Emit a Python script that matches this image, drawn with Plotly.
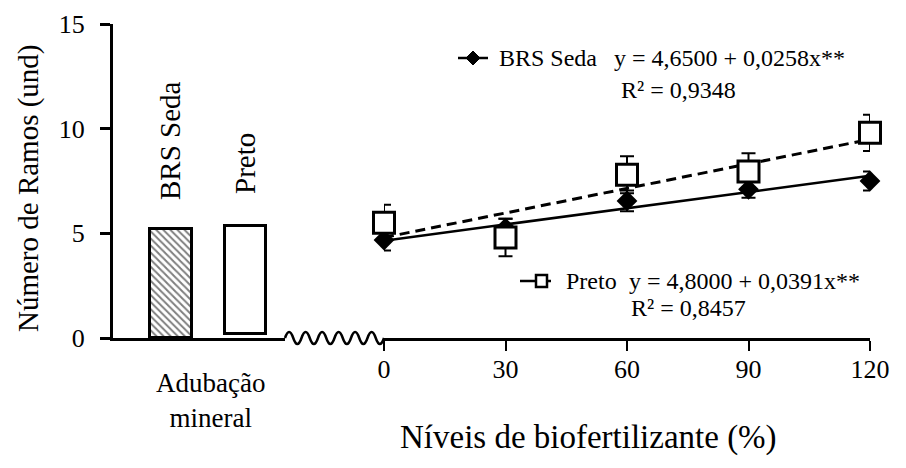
import plotly.graph_objects as go

# ---------------- data ----------------
mineral_cultivars = ["BRS Seda", "Preto"]
mineral_top = [5.2, 5.35]
mineral_base = [0.0, 0.2]

levels = [0, 30, 60, 90, 120]
brs_mean = [4.68, 5.25, 6.55, 7.1, 7.5]
brs_err = [0.5, 0.45, 0.5, 0.4, 0.45]
preto_mean = [5.5, 4.8, 7.8, 7.95, 9.8]
preto_err = [0.87, 0.9, 0.88, 0.87, 0.87]

brs_coef = (4.65, 0.0258)
preto_coef = (4.80, 0.0391)
fit_x = [0, 120]

brs_eq = "y = 4,6500 + 0,0258x**"
brs_r2 = "R² = 0,9348"
preto_eq = "y = 4,8000 + 0,0391x**"
preto_r2 = "R² = 0,8457"

y_ticks = [0, 5, 10, 15]
x_title = "Níveis de biofertilizante (%)"
y_title = "Número de Ramos (und)"
group_label = "Adubação<br>mineral"

# ---------------- geometry (screen pixels of the 906x468 page) ----------------
OFF = 8                      # default body margin of the html page
PL, PR, PT, PB = 113, 870, 24, 338   # plot area on screen
FIG_W, FIG_H = 890, 452
M_L = PL - OFF
M_T = PT - OFF
M_R = FIG_W - (PR - OFF)
M_B = FIG_H - (PB - OFF)
x_bar_end = 285
x_num_start = 384
FONT = "Liberation Serif, Times New Roman, serif"


def px(xs):
    return (xs - PL) / (PR - PL)


def py(ys):
    return (PB - ys) / (PB - PT)


fig = go.Figure()

# mineral fertilization bars
fig.add_trace(go.Bar(
    x=mineral_cultivars,
    y=[t - b for t, b in zip(mineral_top, mineral_base)],
    base=mineral_base,
    width=0.56,
    xaxis="x", yaxis="y",
    marker=dict(color="white",
                pattern=dict(shape=["\\", ""], fgcolor="black", bgcolor="white",
                             size=5, solidity=0.4),
                line=dict(color="black", width=3)),
    showlegend=False,
))

# regression lines
fig.add_trace(go.Scatter(
    x=fit_x, y=[brs_coef[0] + brs_coef[1] * v for v in fit_x],
    mode="lines", line=dict(color="black", width=2.5),
    xaxis="x2", yaxis="y", showlegend=False))
fig.add_trace(go.Scatter(
    x=fit_x, y=[preto_coef[0] + preto_coef[1] * v for v in fit_x],
    mode="lines", line=dict(color="black", width=3, dash="10px,6px"),
    xaxis="x2", yaxis="y", showlegend=False))

# means with error bars
fig.add_trace(go.Scatter(
    x=levels, y=brs_mean, mode="markers",
    marker=dict(symbol="diamond", size=16, color="black", line=dict(width=0)),
    error_y=dict(type="data", array=brs_err, color="black", thickness=2, width=7),
    xaxis="x2", yaxis="y", cliponaxis=False, showlegend=False))
fig.add_trace(go.Scatter(
    x=levels, y=preto_mean, mode="markers",
    marker=dict(symbol="square", size=21, color="white",
                line=dict(color="black", width=3)),
    error_y=dict(type="data", array=preto_err, color="black", thickness=2, width=7),
    xaxis="x2", yaxis="y", cliponaxis=False, showlegend=False))

shapes = []

# broken axis zigzag
n_half = 12
seg = (x_num_start - x_bar_end) / n_half
amp = 12
path = f"M {px(x_bar_end)} {py(338)}"
for i in range(n_half):
    x0 = x_bar_end + i * seg
    cy = 338 - amp if i % 2 == 0 else 338 + amp
    path += f" Q {px(x0 + seg / 2)} {py(cy)} {px(x0 + seg)} {py(338)}"
shapes.append(dict(type="path", path=path, xref="paper", yref="paper",
                   line=dict(color="black", width=2.5)))

# legend keys
shapes.append(dict(type="line", xref="paper", yref="paper",
                   x0=px(458), x1=px(488), y0=py(58), y1=py(58),
                   line=dict(color="black", width=2.5)))
cx, cy = 473, 58
shapes.append(dict(type="path", xref="paper", yref="paper",
                   path=f"M {px(cx - 7)} {py(cy)} L {px(cx)} {py(cy - 7)} "
                        f"L {px(cx + 7)} {py(cy)} L {px(cx)} {py(cy + 7)} Z",
                   fillcolor="black", line=dict(color="black", width=1)))
shapes.append(dict(type="line", xref="paper", yref="paper",
                   x0=px(520), x1=px(551), y0=py(281), y1=py(281),
                   line=dict(color="black", width=2.5)))
shapes.append(dict(type="rect", xref="paper", yref="paper",
                   x0=px(536), x1=px(547), y0=py(287), y1=py(275),
                   fillcolor="white", line=dict(color="black", width=2.5)))


def ann(x, y, text, size, xanchor="center", **kw):
    d = dict(x=px(x), y=py(y), text=text, xref="paper", yref="paper",
             xanchor=xanchor, yanchor="middle",
             showarrow=False, font=dict(family=FONT, size=size, color="black"))
    d.update(kw)
    return d


annotations = [
    ann(170, 141, mineral_cultivars[0], 29, textangle=-90),
    ann(245, 164, mineral_cultivars[1], 29, textangle=-90),
    ann(210, 400, group_label, 27),
    ann(28, 188, y_title, 29, textangle=-90),
    ann(588, 437, x_title, 33),
    ann(497, 58, "BRS Seda", 24, xanchor="left"),
    ann(612, 58, brs_eq, 24, xanchor="left"),
    ann(619, 90, brs_r2, 24, xanchor="left"),
    ann(564, 281, "Preto", 24, xanchor="left"),
    ann(627, 281, preto_eq, 24, xanchor="left"),
    ann(629, 308, preto_r2, 24, xanchor="left"),
]

fig.update_layout(
    width=FIG_W, height=FIG_H,
    margin=dict(l=M_L, r=M_R, t=M_T, b=M_B, pad=0, autoexpand=False),
    paper_bgcolor="white", plot_bgcolor="rgba(0,0,0,0)",
    font=dict(family=FONT, size=26, color="black"),
    bargap=0,
    xaxis=dict(domain=[0, px(x_bar_end)], type="category",
               range=[-0.778, 1.53], showline=True, linecolor="black",
               linewidth=2.5, showticklabels=False, ticks="", showgrid=False,
               zeroline=False, anchor="y", fixedrange=True),
    xaxis2=dict(domain=[px(x_num_start), 1], range=[0, 120],
                tickvals=levels, ticktext=[str(v) for v in levels],
                ticks="outside", ticklen=10, tickwidth=2, tickcolor="black",
                showline=True, linecolor="black", linewidth=2.5,
                showgrid=False, zeroline=False, anchor="y",
                ticklabelstandoff=-4,
                tickfont=dict(family=FONT, size=26)),
    yaxis=dict(range=[0, 15], tickvals=y_ticks, ticks="outside", ticklen=10,
               tickwidth=2.5, tickcolor="black", showline=True,
               linecolor="black", linewidth=3, showgrid=False, zeroline=False,
               anchor="x", ticklabelstandoff=10,
               tickfont=dict(family=FONT, size=26)),
    shapes=shapes,
    annotations=annotations,
)

fig.write_html("out.html")
